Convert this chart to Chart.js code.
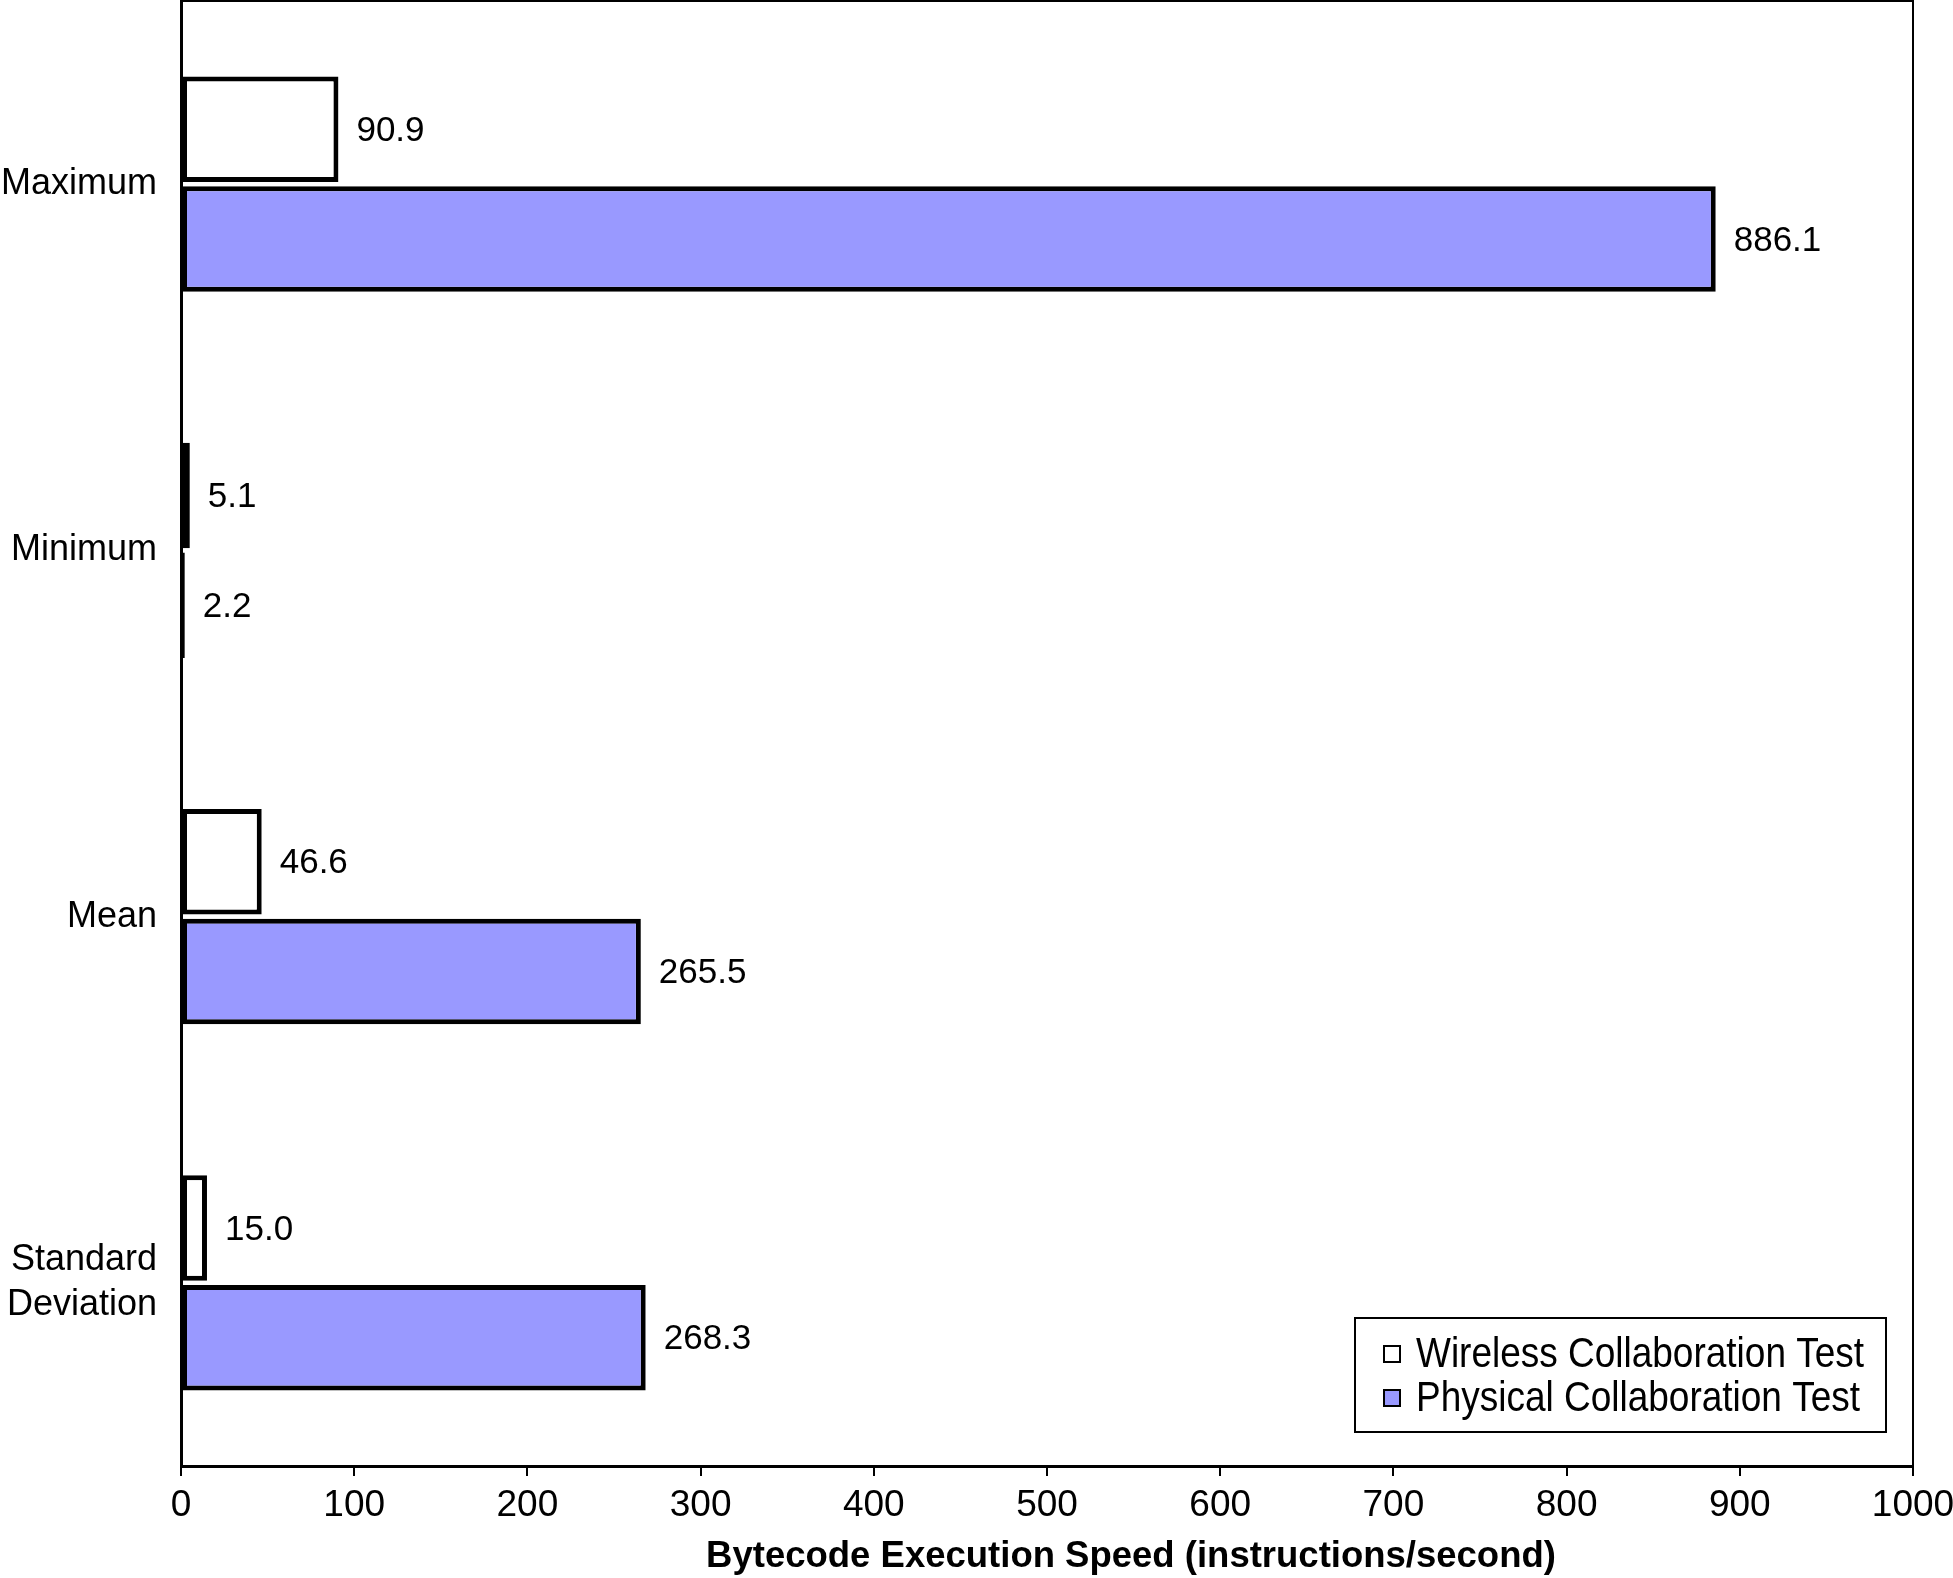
<!DOCTYPE html>
<html>
<head>
<meta charset="utf-8">
<script src="https://cdn.jsdelivr.net/npm/chart.js@4"></script>
<style>
	html, body { margin: 0; padding: 0; background: #fff; }
	canvas { display: block; }
</style>
</head>
<body>
<canvas id="chart" width="1953" height="1578"></canvas>
<script>
const categories = ["Maximum", "Minimum", "Mean", ["Standard", "Deviation"]];
const wirelessValues = [90.9, 5.1, 46.6, 15.0];
const physicalValues = [886.1, 2.2, 265.5, 268.3];
const seriesNames = ["Wireless Collaboration Test", "Physical Collaboration Test"];
const xTicks = [0, 100, 200, 300, 400, 500, 600, 700, 800, 900, 1000];
const axisTitle = "Bytecode Execution Speed (instructions/second)";

const SANS = "'Liberation Sans', Arial, Helvetica, sans-serif";

// frame around the plot, value labels, axis title and the boxed legend
const decorations = {
	id: "decorations",
	afterDatasetsDraw(chart) {
		const { ctx, chartArea: a } = chart;
		ctx.save();
		ctx.strokeStyle = "#000";
		ctx.lineWidth = 2;
		ctx.strokeRect(a.left, a.top, a.right - a.left, a.bottom - a.top);

		ctx.fillStyle = "#000";
		ctx.font = "35px " + SANS;
		ctx.textAlign = "left";
		ctx.textBaseline = "middle";
		chart.data.datasets.forEach((ds, i) => {
			chart.getDatasetMeta(i).data.forEach((bar, j) => {
				ctx.fillText(ds.data[j].toFixed(1), bar.x + 18, bar.y + 2);
			});
		});

		// axis title sits a bit right of the plot centre in the original
		ctx.font = "bold 36.5px " + SANS;
		ctx.textAlign = "center";
		ctx.fillText(axisTitle, 1131, 1557);
		ctx.textAlign = "left";

		// legend box
		const lx = 1355, ly = 1318, lw = 531, lh = 114;
		ctx.fillStyle = "#fff";
		ctx.fillRect(lx, ly, lw, lh);
		ctx.lineWidth = 2;
		ctx.strokeRect(lx, ly, lw, lh);
		chart.data.datasets.forEach((ds, i) => {
			const cy = ly + 36 + i * 44;
			ctx.fillStyle = ds.backgroundColor;
			ctx.fillRect(lx + 29, cy - 8, 16, 16);
			ctx.lineWidth = 2;
			ctx.strokeStyle = "#000";
			ctx.strokeRect(lx + 29, cy - 8, 16, 16);
			ctx.save();
			ctx.translate(lx + 61, cy + 1);
			ctx.scale(0.86, 1);
			ctx.fillStyle = "#000";
			ctx.font = "43px " + SANS;
			ctx.fillText(ds.label, 0, 0);
			ctx.restore();
		});
		ctx.restore();
	}
};

new Chart(document.getElementById("chart"), {
	type: "bar",
	data: {
		labels: categories,
		datasets: [
			{ label: seriesNames[0], data: wirelessValues, backgroundColor: "#ffffff", borderColor: "#000", borderWidth: 5, borderSkipped: false },
			{ label: seriesNames[1], data: physicalValues, backgroundColor: "#9999ff", borderColor: "#000", borderWidth: 5, borderSkipped: false }
		]
	},
	options: {
		indexAxis: "y",
		responsive: false,
		devicePixelRatio: 1,
		animation: false,
		categoryPercentage: 0.6,
		barPercentage: 0.96,
		layout: { padding: { top: 1, right: 40, left: 0, bottom: 0 } },
		plugins: {
			legend: { display: false },
			tooltip: { enabled: false }
		},
		scales: {
			x: {
				min: 0,
				max: 1000,
				afterBuildTicks: (s) => { s.ticks = xTicks.map((v) => ({ value: v })); },
				afterFit: (s) => { s.height = 112; s.paddingRight = 0; s.paddingLeft = 0; },
				ticks: { color: "#000", font: { family: SANS, size: 37 }, padding: 8, maxRotation: 0, callback: (v) => String(v) },
				grid: { drawOnChartArea: false, drawTicks: true, tickLength: 10, color: "#000", lineWidth: 2 },
				border: { color: "#000", width: 3 }
			},
			y: {
				afterFit: (s) => { s.width = 181; s.paddingTop = 0; s.paddingBottom = 0; },
				ticks: { color: "#000", font: { family: SANS, size: 36, lineHeight: 1.25 }, padding: 24 },
				grid: { drawOnChartArea: false, drawTicks: false, tickLength: 0 },
				border: { color: "#000", width: 3 }
			}
		}
	},
	plugins: [decorations]
});
</script>
</body>
</html>
